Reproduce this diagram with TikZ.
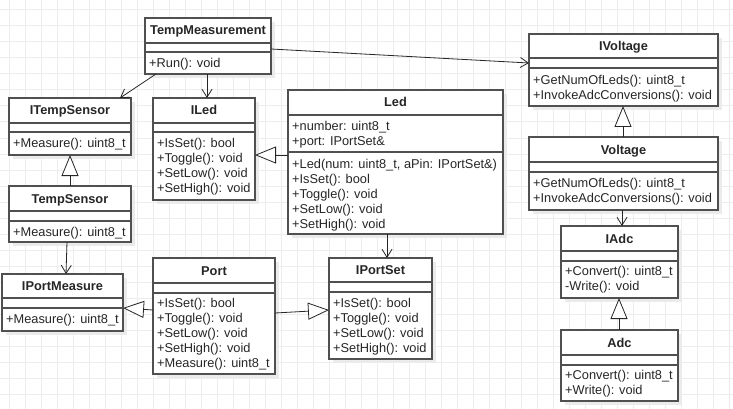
\documentclass[tikz,border=0pt]{standalone}
\usepackage{fontspec}
\setmainfont{Liberation Sans}
\usetikzlibrary{arrows.meta,calc}
\definecolor{gridc}{HTML}{EDEDED}
\definecolor{shadowc}{HTML}{EBEBEB}
\definecolor{boxc}{HTML}{505050}
\tikzset{
  box/.style={draw=boxc,line width=1.2pt,fill=white,rectangle,inner sep=0pt,outer sep=0pt},
  sepline/.style={draw=boxc,line width=1.2pt},
  ttl/.style={font=\fontsize{12.8}{15}\selectfont\bfseries,inner sep=0pt,anchor=base,text=black!85},
  txt/.style={font=\fontsize{12.8}{15}\selectfont,inner sep=0pt,anchor=base west,text=black!85},
  conn/.style={draw=black!85,line width=0.8pt},
  assoc/.style={conn,-{Straight Barb[length=8pt,width=10pt,line width=0.8pt]}},
  inherit/.style={conn,-{Triangle[open,length=21pt,width=17pt,line width=0.8pt,fill=white]}},
}
\newcommand\umlbox[8]{%
  \fill[shadowc] (#2+4,#3+4) rectangle (#4+4,#5+4);
  \node[box,minimum width={#4-#2},minimum height={#5-#3},anchor=north west] (#1) at (#2,#3) {};
  \draw[sepline] (#2,#6) -- (#4,#6);
  \draw[sepline] (#2,#7) -- (#4,#7);
  \node[ttl] (#1-title) at ({(#2+#4)/2},{(#3+#6)/2+4.5}) {#8};
}
\newcommand\umllines[4]{%
  \foreach \t [count=\i] in {#4} {\node[txt] (#1-\i) at (#2,{#3+4.5+15*(\i-1)}) {\t};}
}
\begin{document}
\begin{tikzpicture}[x=1pt,y=-1pt]
\useasboundingbox (0,0) rectangle (733,409);
\fill[white] (0,0) rectangle (733,409);
\foreach \gx in {0,...,45} {\draw[gridc,line width=1pt] ({9.33+16*\gx},0) -- ({9.33+16*\gx},409);}
\foreach \gy in {0,...,25} {\draw[gridc,line width=1pt] (0,{10+16*\gy}) -- (733,{10+16*\gy});}

% boxes
\umlbox{tm}{145}{18}{271}{74}{43}{52}{TempMeasurement}
\umllines{tm-m}{149}{63}{+Run(): void}

\umlbox{its}{9}{98}{131}{155}{123}{132}{ITempSensor}
\umllines{its-m}{13}{143}{+Measure(): uint8\_t}

\umlbox{iled}{153}{98}{255}{200}{123}{132}{ILed}
\umllines{iled-m}{157}{143}{+IsSet(): bool,+Toggle(): void,+SetLow(): void,+SetHigh(): void}

\umlbox{ts}{9}{186}{131}{242}{211}{221}{TempSensor}
\umllines{ts-m}{13}{232}{+Measure(): uint8\_t}

\umlbox{ipm}{2}{274}{123}{331}{298}{308}{IPortMeasure}
\umllines{ipm-m}{6}{319}{+Measure(): uint8\_t}

\umlbox{port}{153}{258}{275}{374}{283}{293}{Port}
\umllines{port-m}{157}{303}{+IsSet(): bool,+Toggle(): void,+SetLow(): void,+SetHigh(): void,+Measure(): uint8\_t}

\umlbox{led}{288}{90}{503}{234}{115}{152}{Led}
\umllines{led-a}{292}{126}{+number: uint8\_t,+port: IPortSet\&}
\umllines{led-m}{292}{164}{{+Led(num: uint8\_t, aPin: IPortSet\&)},+IsSet(): bool,+Toggle(): void,+SetLow(): void,+SetHigh(): void}

\umlbox{ips}{329}{258}{432}{359}{282}{292}{IPortSet}
\umllines{ips-m}{333}{303}{+IsSet(): bool,+Toggle(): void,+SetLow(): void,+SetHigh(): void}

\umlbox{ivol}{529}{34}{718}{106}{58}{68}{IVoltage}
\umllines{ivol-m}{533}{80}{+GetNumOfLeds(): uint8\_t,+InvokeAdcConversions(): void}

\umlbox{vol}{529}{137}{718}{210}{162}{172}{Voltage}
\umllines{vol-m}{533}{183}{+GetNumOfLeds(): uint8\_t,+InvokeAdcConversions(): void}

\umlbox{iadc}{561}{226}{678}{298}{251}{261}{IAdc}
\umllines{iadc-m}{565}{271}{+Convert(): uint8\_t,-Write(): void}

\umlbox{adc}{561}{330}{678}{401}{355}{365}{Adc}
\umllines{adc-m}{565}{375}{+Convert(): uint8\_t,+Write(): void}

% connectors
\draw[assoc] ($(tm.south west)+(11,0)$) -- ($(its.north east)+(-11,0)$);
\draw[assoc] ($(tm.south west)+(62,0)$) -- ($(iled.north west)+(54,0)$);
\draw[assoc] ($(tm.north east)+(0,31)$) -- ($(ivol.north west)+(0,29)$);
\draw[inherit] ($(led.north west)+(0,65)$) -- ($(iled.north east)+(0,57)$);
\draw[inherit] ($(ts.north west)+(61,0)$) -- ($(its.south west)+(61,0)$);
\draw[assoc] ($(ts.south west)+(58,0)$) -- ($(ipm.north west)+(64,0)$);
\draw[inherit] ($(port.north west)+(0,52)$) -- ($(ipm.north east)+(0,34)$);
\draw[inherit] ($(port.north east)+(0,55)$) -- ($(ips.north west)+(0,52)$);
\draw[assoc] ($(led.south west)+(99,0)$) -- ($(ips.north west)+(58,0)$);
\draw[inherit] ($(vol.north west)+(94,0)$) -- ($(ivol.south west)+(94,0)$);
\draw[assoc] ($(vol.south west)+(93,0)$) -- ($(iadc.north west)+(61,0)$);
\draw[inherit] ($(adc.north west)+(58,0)$) -- ($(iadc.south west)+(58,0)$);
\end{tikzpicture}
\end{document}
